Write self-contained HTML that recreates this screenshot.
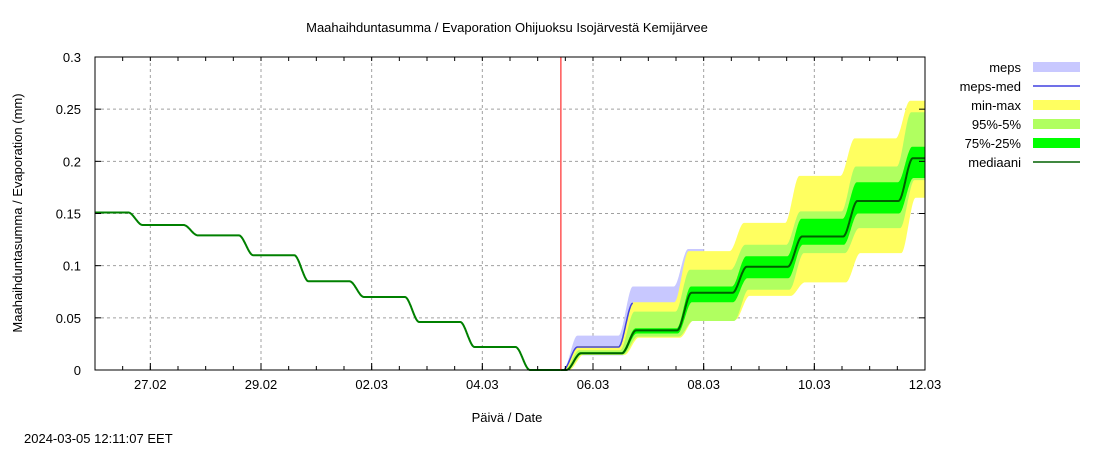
<!DOCTYPE html>
<html><head><meta charset="utf-8"><style>
body{margin:0;background:#fff;}
svg text{font-family:"Liberation Sans",sans-serif;font-size:13px;fill:#000;}
</style></head><body>
<svg id="chart" width="1100" height="450" xmlns="http://www.w3.org/2000/svg">
<rect width="1100" height="450" fill="#fff"/>
<text x="507" y="32" text-anchor="middle">Maahaihduntasumma / Evaporation   Ohijuoksu Isojärvestä Kemijärvee</text>
<text x="22" y="213" text-anchor="middle" transform="rotate(-90 22 213)">Maahaihduntasumma / Evaporation (mm)</text>
<text x="507" y="422" text-anchor="middle">Päivä / Date</text>
<text x="24" y="443">2024-03-05 12:11:07 EET</text>
<g id="grid"></g><g id="bands"></g><g id="lines"></g><g id="axes"></g><g id="legend"></g>
</svg>
<script>
// x: days since 26.02 00:00 (0..15)
const xTickLabels = ["27.02","29.02","02.03","04.03","06.03","08.03","10.03","12.03"];
const xTickDays = [1,3,5,7,9,11,13,15];
const yTicks = [0,0.05,0.1,0.15,0.2,0.25,0.3];
const yTickLabels = ["0","0.05","0.1","0.15","0.2","0.25","0.3"];
const histStart = 0.151;
const histLevels = [0.139,0.129,0.110,0.085,0.070,0.046,0.022,0.0];
const nowDay = 8.42;
const fcFirstDay = 8;
const fcMedian = [0.016,0.038,0.074,0.099,0.128,0.162,0.203];
const fcMax = [0.023,0.065,0.114,0.141,0.186,0.222,0.258];
const fcMin = [0.0145,0.031,0.048,0.071,0.084,0.112,0.165];
const fc95 = [0.019,0.056,0.096,0.120,0.152,0.195,0.247];
const fc5 = [0.015,0.032,0.047,0.077,0.112,0.136,0.182];
const fc75 = [0.017,0.040,0.080,0.109,0.145,0.180,0.214];
const fc25 = [0.015,0.035,0.065,0.088,0.120,0.150,0.184];
const mepsTop = [0.033,0.080,0.116];
const mepsBot = [0.014,0.035,0.068];
const mepsMed = [0.022,0.064];

const X0=95,X1=925,Y0=370,Y1=57;
const xs=d=>X0+(X1-X0)*d/15;
const ys=v=>Y0-(Y0-Y1)*v/0.3;
const NS="http://www.w3.org/2000/svg";
function mk(tag,attrs,parent){const e=document.createElementNS(NS,tag);for(const k in attrs)e.setAttribute(k,attrs[k]);parent.appendChild(e);return e;}
function sstep(u){u=Math.max(0,Math.min(1,u));return u*u*(3-2*u);}
function lvl(t,start,levels,firstDay,shift){let v=start,prev=start;for(let i=0;i<levels.length;i++){const d=firstDay+i;v+=(levels[i]-prev)*sstep((t-(d+0.52+shift))/0.26);prev=levels[i];}return v;}
function pts(a,b,f){const p=[];for(let t=a;t<=b+1e-9;t+=0.01)p.push([t,f(t)]);return p;}
function band(a,b,fTop,fBot,color,name){
 const top=pts(a,b,fTop),bot=pts(a,b,fBot).reverse();
 const d="M"+top.concat(bot).map(q=>xs(q[0]).toFixed(1)+","+ys(q[1]).toFixed(1)).join("L")+"Z";
 const p=mk("path",{d:d,fill:color,stroke:"none"},document.getElementById("bands"));
 
 
}
function line(a,b,f,color,w,name){
 const d="M"+pts(a,b,f).map(q=>xs(q[0]).toFixed(1)+","+ys(q[1]).toFixed(1)).join("L");
 const p=mk("path",{d:d,fill:"none",stroke:color,"stroke-width":w},document.getElementById("lines"));
 
 
}
// grid
const g=document.getElementById("grid");
yTicks.forEach((v,i)=>{if(i>0&&i<yTicks.length-1){const l=mk("line",{x1:X0,x2:X1,y1:ys(v),y2:ys(v),stroke:"#a0a0a0","stroke-dasharray":"3,3"},g);}});
xTickDays.forEach((d,i)=>{if(d<15){const l=mk("line",{x1:xs(d),x2:xs(d),y1:Y1,y2:Y0,stroke:"#a0a0a0","stroke-dasharray":"3,3"},g);}});
// bands
const F=(arr,sh)=>t=>lvl(t,0,arr,fcFirstDay,sh);
band(nowDay,11.0,F(mepsTop,-0.06),F(mepsBot,0.02),"#c8c8ff","meps-band");
band(nowDay,15,F(fcMax,-0.05),F(fcMin,0.05),"#ffff60","min-max-band");
band(nowDay,15,F(fc95,-0.03),F(fc5,0.03),"#b0ff60","p95-p5-band");
band(nowDay,15,F(fc75,-0.01),F(fc25,0.01),"#00ff00","p75-p25-band");
line(nowDay,9.72,F(mepsMed,-0.06),"#4040e0",1.5,"meps-median-line");
line(0,nowDay,t=>lvl(t,histStart,histLevels,0,0.08),"#008000",2,"history-line");
line(nowDay,15,F(fcMedian,0),"#006000",2,"forecast-median-line");
// now line
const nl=mk("line",{x1:xs(nowDay),x2:xs(nowDay),y1:Y1,y2:Y0,stroke:"#ff0000","stroke-width":1},document.getElementById("lines"));


// axes
const ax=document.getElementById("axes");
const fr=mk("rect",{x:X0,y:Y1,width:X1-X0,height:Y0-Y1,fill:"none",stroke:"#000","stroke-width":1},ax);


yTicks.forEach((v,i)=>{
 mk("line",{x1:X0,x2:X0+6,y1:ys(v),y2:ys(v),stroke:"#000"},ax);
 mk("line",{x1:X1-6,x2:X1,y1:ys(v),y2:ys(v),stroke:"#000"},ax);
 const t=mk("text",{x:X0-14,y:ys(v)+5,"text-anchor":"end"},ax);t.textContent=yTickLabels[i];
 
 
});
for(let d=0.5;d<15;d+=0.5){mk("line",{x1:xs(d),x2:xs(d),y1:Y0,y2:Y0-4,stroke:"#000"},ax);mk("line",{x1:xs(d),x2:xs(d),y1:Y1,y2:Y1+4,stroke:"#000"},ax);}
xTickDays.forEach((d,i)=>{
 mk("line",{x1:xs(d),x2:xs(d),y1:Y0,y2:Y0-7,stroke:"#000"},ax);
 const t=mk("text",{x:xs(d),y:Y0+19,"text-anchor":"middle"},ax);t.textContent=xTickLabels[i];
 
 
});
// legend
const lg=document.getElementById("legend");
const legNames=["meps","meps-med","min-max","95%-5%","75%-25%","mediaani"];
const legColors=["#c8c8ff","#4040e0","#ffff60","#b0ff60","#00ff00","#006000"];
const legLine=[false,true,false,false,false,true];
legNames.forEach((n,i)=>{
 const y=67+i*19;
 const t=mk("text",{x:1021,y:y+5,"text-anchor":"end"},lg);t.textContent=n;
 
 
 const s=legLine[i]?mk("line",{x1:1033,x2:1080,y1:y,y2:y,stroke:legColors[i],"stroke-width":1.5},lg):mk("rect",{x:1033,y:y-5,width:47,height:10,fill:legColors[i]},lg);
 
 
});
</script>
</body></html>
